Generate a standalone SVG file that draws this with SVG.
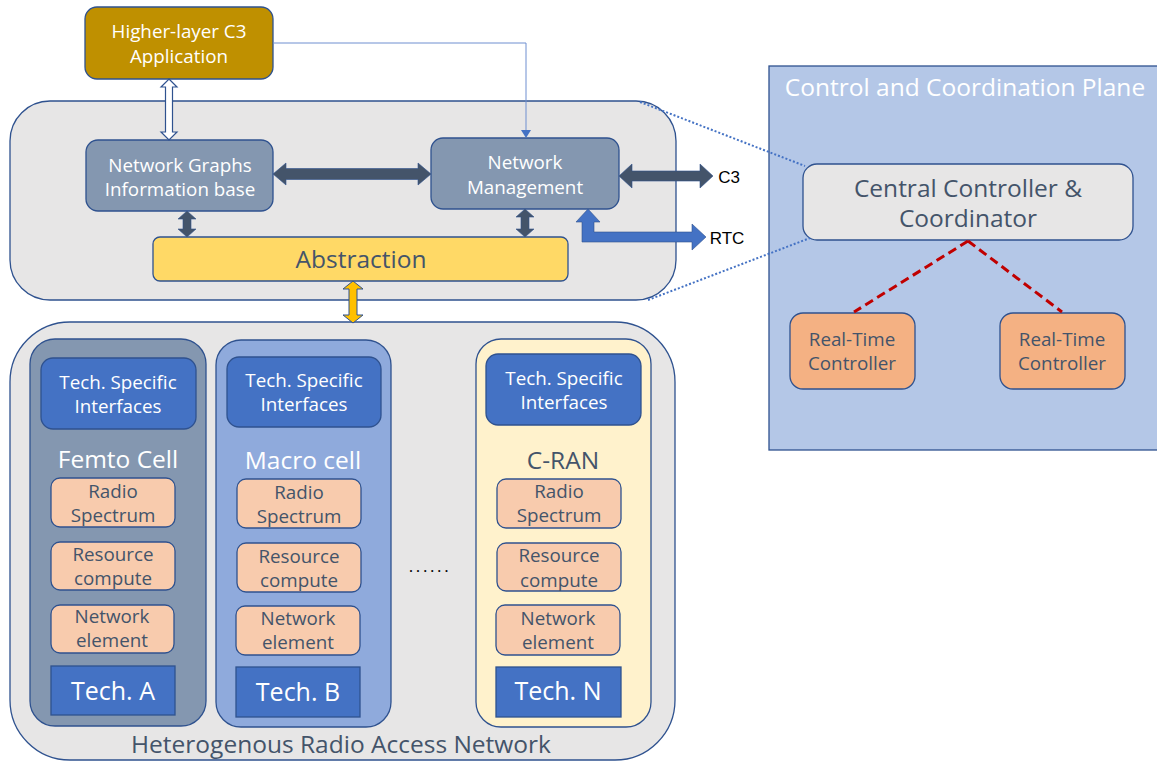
<svg xmlns="http://www.w3.org/2000/svg" width="1157" height="762" viewBox="0 0 1157 762">
<style>
text{font-family:"Open Sans","Noto Sans","Liberation Sans",sans-serif;text-anchor:middle}
.bx{stroke:#2F528F;stroke-width:1.3}
.w17{fill:#FFFFFF;font-size:18.8px}
.g17{fill:#44546A;font-size:18.8px}
.big{font-size:24.5px}
.res{fill:#F8CBAD;stroke:#2F528F;stroke-width:1.3}
.tsi{fill:#4472C4;stroke:#2F528F;stroke-width:1.3}
.arr{fill:#44546A;stroke:#2F528F;stroke-width:0.6}
</style>
<rect width="1157" height="762" fill="#FFFFFF"/>

<g id="control-plane">
<rect x="769" y="66" width="400" height="384" fill="#B4C7E7" class="bx"/>
<text x="965" y="96" class="big" style="fill:#FFFFFF">Control and Coordination Plane</text>
</g>

<g id="management-box">
<rect x="10" y="101" width="666" height="199" rx="40" fill="#E7E6E6" class="bx"/>
</g>

<g id="ran-box">
<rect x="10" y="322" width="665" height="438" rx="60" fill="#E7E6E6" class="bx"/>
<text x="341" y="753" class="big" style="fill:#44546A">Heterogenous Radio Access Network</text>
</g>

<g id="higher-layer">
<rect x="85" y="7" width="188" height="72" rx="12" fill="#BF9000" class="bx"/>
<text x="179" y="38" class="w17">Higher-layer C3</text>
<text x="179" y="63" class="w17">Application</text>
</g>

<g id="ngib">
<rect x="86" y="140" width="187" height="71" rx="12" fill="#8497B0" class="bx"/>
<text x="180" y="172" class="w17">Network Graphs</text>
<text x="180" y="196" class="w17">Information base</text>
</g>

<g id="network-management">
<rect x="431" y="138" width="188" height="71" rx="12" fill="#8497B0" class="bx"/>
<text x="525" y="169" class="w17">Network</text>
<text x="525" y="194" class="w17">Management</text>
</g>

<g id="abstraction">
<rect x="153" y="237" width="415" height="44" rx="7" fill="#FFD966" class="bx"/>
<text x="361" y="268" class="big" style="fill:#44546A">Abstraction</text>
</g>

<g id="central-controller">
<rect x="803" y="164" width="330" height="76" rx="14" fill="#E7E6E6" class="bx"/>
<text x="968" y="197" class="big" style="fill:#44546A">Central Controller &amp;</text>
<text x="968" y="227" class="big" style="fill:#44546A">Coordinator</text>
</g>

<g id="rtc-left">
<rect x="790" y="313" width="125" height="76" rx="13" fill="#F4B183" class="bx"/>
<text x="852" y="346" class="g17">Real-Time</text>
<text x="852" y="370" class="g17">Controller</text>
</g>

<g id="rtc-right">
<rect x="1000" y="313" width="125" height="76" rx="13" fill="#F4B183" class="bx"/>
<text x="1062" y="346" class="g17">Real-Time</text>
<text x="1062" y="370" class="g17">Controller</text>
</g>

<g id="femto">
<rect x="30" y="339" width="176" height="387" rx="25" fill="#8497B0" class="bx"/>
<rect x="41" y="358" width="155" height="71" rx="12" class="tsi"/>
<text x="118" y="389" class="w17">Tech. Specific</text>
<text x="118" y="413" class="w17">Interfaces</text>
<text x="118" y="468" class="big" style="fill:#FFFFFF">Femto Cell</text>
<rect x="51" y="478" width="124" height="49" rx="9" class="res"/>
<text x="113" y="498" class="g17">Radio</text>
<text x="113" y="522" class="g17">Spectrum</text>
<rect x="51" y="542" width="124" height="48" rx="9" class="res"/>
<text x="113" y="561" class="g17">Resource</text>
<text x="113" y="585" class="g17">compute</text>
<rect x="51" y="605" width="123" height="48" rx="9" class="res"/>
<text x="112" y="623" class="g17">Network</text>
<text x="112" y="647" class="g17">element</text>
<rect x="51" y="666" width="124" height="49" class="tsi"/>
<text x="113" y="700" style="fill:#FFFFFF;font-size:25px">Tech. A</text>
</g>

<g id="macro">
<rect x="216" y="340" width="175" height="387" rx="25" fill="#8FAADC" class="bx"/>
<rect x="227" y="357" width="154" height="70" rx="12" class="tsi"/>
<text x="304" y="387" class="w17">Tech. Specific</text>
<text x="304" y="411" class="w17">Interfaces</text>
<text x="303" y="469" class="big" style="fill:#FFFFFF">Macro cell</text>
<rect x="237" y="479" width="124" height="49" rx="9" class="res"/>
<text x="299" y="499" class="g17">Radio</text>
<text x="299" y="523" class="g17">Spectrum</text>
<rect x="237" y="543" width="124" height="49" rx="9" class="res"/>
<text x="299" y="563" class="g17">Resource</text>
<text x="299" y="587" class="g17">compute</text>
<rect x="236" y="606" width="124" height="49" rx="9" class="res"/>
<text x="298" y="625" class="g17">Network</text>
<text x="298" y="649" class="g17">element</text>
<rect x="236" y="667" width="124" height="50" class="tsi"/>
<text x="298" y="701" style="fill:#FFFFFF;font-size:25px">Tech. B</text>
</g>

<g id="cran">
<rect x="476" y="339" width="175" height="388" rx="25" fill="#FFF2CC" class="bx"/>
<rect x="486" y="354" width="155" height="71" rx="12" class="tsi"/>
<text x="564" y="385" class="w17">Tech. Specific</text>
<text x="564" y="409" class="w17">Interfaces</text>
<text x="563" y="469" class="big" style="fill:#44546A">C-RAN</text>
<rect x="497" y="479" width="124" height="49" rx="9" class="res"/>
<text x="559" y="498" class="g17">Radio</text>
<text x="559" y="522" class="g17">Spectrum</text>
<rect x="497" y="543" width="124" height="48" rx="9" class="res"/>
<text x="559" y="562" class="g17">Resource</text>
<text x="559" y="587" class="g17">compute</text>
<rect x="496" y="605" width="124" height="50" rx="9" class="res"/>
<text x="558" y="625" class="g17">Network</text>
<text x="558" y="649" class="g17">element</text>
<rect x="496" y="667" width="125" height="50" class="tsi"/>
<text x="558" y="700" style="fill:#FFFFFF;font-size:25px">Tech. N</text>
</g>

<g id="ellipsis">
<text x="430" y="572" style="fill:#000000;font-size:17px;letter-spacing:2.6px">......</text>
</g>

<g id="connectors">
<polyline points="273,43 526,43 526,131" fill="none" stroke="#6E8FD0" stroke-width="1"/>
<polygon points="521,130 531,130 526,138" fill="#4472C4"/>
<polygon points="169,79 177,87 172.5,87 172.5,132 177,132 169,140 161,132 165.5,132 165.5,87 161,87" fill="#FFFFFF" stroke="#2F528F" stroke-width="1.2"/>
<polygon class="arr" points="273,174 286,163 286,168.5 418,168.5 418,163 431,174 418,185 418,179.5 286,179.5 286,185"/>
<polygon class="arr" points="619,176 632,164 632,171 700,171 700,164 713,176 700,188 700,181 632,181 632,188"/>
<polygon class="arr" points="187,211 196,219 191,219 191,229 196,229 187,237 178,229 183,229 183,219 178,219"/>
<polygon class="arr" points="525,209 534,217 529,217 529,229 534,229 525,237 516,229 521,229 521,217 516,217"/>
<polygon points="588,209 600,222 594,222 594,232 692,232 692,224 706,237 692,250 692,242 582,242 582,222 576,222" fill="#4472C4" stroke="#2F528F" stroke-width="0.6"/>
<polygon points="353,281 363,289 357,289 357,315 363,315 353,323 343,315 349,315 349,289 343,289" fill="#FFC000" stroke="#2F528F" stroke-width="1"/>
<line x1="640" y1="102" x2="805" y2="166" stroke="#4472C4" stroke-width="2" stroke-dasharray="2,2"/>
<line x1="648" y1="300" x2="810" y2="238" stroke="#4472C4" stroke-width="2" stroke-dasharray="2,2"/>
<line x1="968" y1="241" x2="854" y2="312" stroke="#C00000" stroke-width="3" stroke-dasharray="9,5"/>
<line x1="968" y1="241" x2="1062" y2="312" stroke="#C00000" stroke-width="3" stroke-dasharray="9,5"/>
<text x="729" y="183" style="fill:#000000;font-size:17px;font-family:'Liberation Sans',sans-serif">C3</text>
<text x="727" y="244" style="fill:#000000;font-size:17px;font-family:'Liberation Sans',sans-serif">RTC</text>
</g>
</svg>
